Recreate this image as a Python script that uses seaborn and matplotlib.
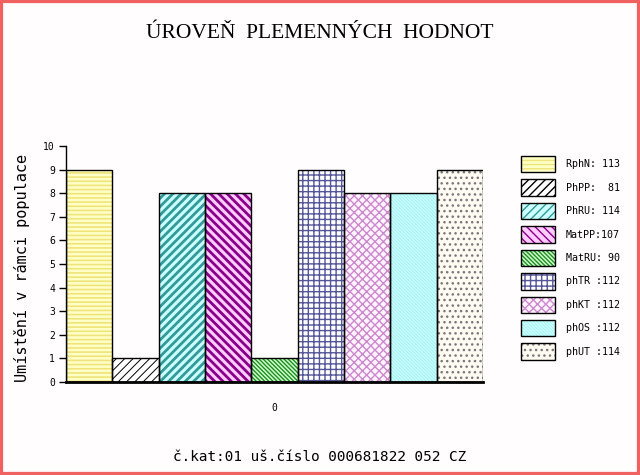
import matplotlib
matplotlib.use("Agg")
import matplotlib.pyplot as plt
import seaborn as sns
import pandas as pd
from matplotlib.patches import Patch, Rectangle

# data
names = ["RphN", "PhPP", "PhRU", "MatPP", "MatRU", "phTR", "phKT", "phOS", "phUT"]
values = [9, 1, 8, 8, 1, 9, 8, 8, 9]
legend_labels = ["RphN: 113", "PhPP:  81", "PhRU: 114", "MatPP:107", "MatRU: 90",
                 "phTR :112", "phKT :112", "phOS :112", "phUT :114"]

# fill styles
face_colors = ["#ffffc8", "#ffffff", "#ccffff", "#ffccff", "#ccffcc",
               "#ffffff", "#fff4ff", "#aef2f2", "#fffaf2"]
hatch_colors = ["#eee47a", "#000000", "#339999", "#880088", "#228b22",
                "#555599", "#cc88cc", "#c8ffff", "#777777"]
hatches = ["----", "////", "////", "\\\\\\\\", "\\\\\\\\\\\\\\\\", "+++", "xxxx",
           "\\\\\\\\\\\\\\\\\\\\", "..."]
hatch_widths = [1.2, 0.7, 2.0, 2.0, 1.0, 1.0, 1.0, 0.8, 1.0]

fig = plt.figure(figsize=(6.4, 4.75), dpi=100, facecolor="#fffdfd")
ax = fig.add_axes([66 / 640, 1 - 382 / 475, (483 - 66) / 640, (382 - 146) / 475])
ax.set_facecolor("#fffdfd")

df = pd.DataFrame({"name": names, "value": values})
sns.barplot(data=df, x="name", y="value", hue="name", palette=face_colors,
            width=1, saturation=1, legend=False, ax=ax)


def set_hw(p, w):
    if hasattr(p, "set_hatch_linewidth"):
        p.set_hatch_linewidth(w)


bars = list(ax.patches)
for p, h, hc, hw in zip(bars, hatches, hatch_colors, hatch_widths):
    p.set_hatch(h)
    p.set_edgecolor(hc)
    p.set_linewidth(0)
    set_hw(p, hw)
    ax.add_patch(Rectangle(p.get_xy(), p.get_width(), p.get_height(),
                           fill=False, edgecolor="black", linewidth=1.0, zorder=3))

ax.set_xlim(-0.5, len(names) - 0.5)
ax.set_ylim(0, 10)
ax.set_yticks(range(0, 11))
ax.set_yticklabels([str(i) for i in range(0, 11)], family="DejaVu Sans Mono", fontsize=7)
ax.set_xticks([(len(names) - 1) / 2])
ax.set_xticklabels(["0"], family="DejaVu Sans Mono", fontsize=7)
ax.tick_params(axis="x", length=0, pad=15)
ax.tick_params(axis="y", length=5, width=1, pad=3, direction="out")
ax.set_xlabel("")
ax.set_ylabel("")
for s in ["top", "right"]:
    ax.spines[s].set_visible(False)
ax.spines["left"].set_linewidth(1)
ax.spines["bottom"].set_linewidth(2)

# legend
handles = []
for fc, hc, h, hw in zip(face_colors, hatch_colors, hatches, hatch_widths):
    p1 = Patch(facecolor=fc, edgecolor=hc, hatch=h, linewidth=0)
    set_hw(p1, hw)
    p2 = Patch(fill=False, edgecolor="black", linewidth=1.0)
    handles.append((p1, p2))
fig.legend(handles, legend_labels, loc="upper left",
           bbox_to_anchor=(521 / 640, 1 - 156 / 475), frameon=False,
           prop={"family": "DejaVu Sans Mono", "size": 7.2},
           handlelength=3.4, handleheight=2.15, labelspacing=0.7,
           handletextpad=1.1, borderpad=0, borderaxespad=0)

fig.text(320 / 640, 1 - 33 / 475, "ÚROVEŇ  PLEMENNÝCH  HODNOT", ha="center", va="center",
         family="Liberation Serif", fontsize=15.5)
fig.text(22 / 640, 1 - 268 / 475, "Umístění v rámci populace", rotation=90,
         ha="center", va="center", family="DejaVu Sans Mono", fontsize=11)
fig.text(320 / 640, 1 - 457 / 475, "č.kat:01 uš.číslo 000681822 052 CZ", ha="center",
         va="center", family="DejaVu Sans Mono", fontsize=10.4)

fig.patches.append(Rectangle((0, 0), 1, 1, transform=fig.transFigure, fill=False,
                             edgecolor="#f06262", linewidth=4.5))

fig.savefig("out.png", dpi=100, facecolor=fig.get_facecolor())
